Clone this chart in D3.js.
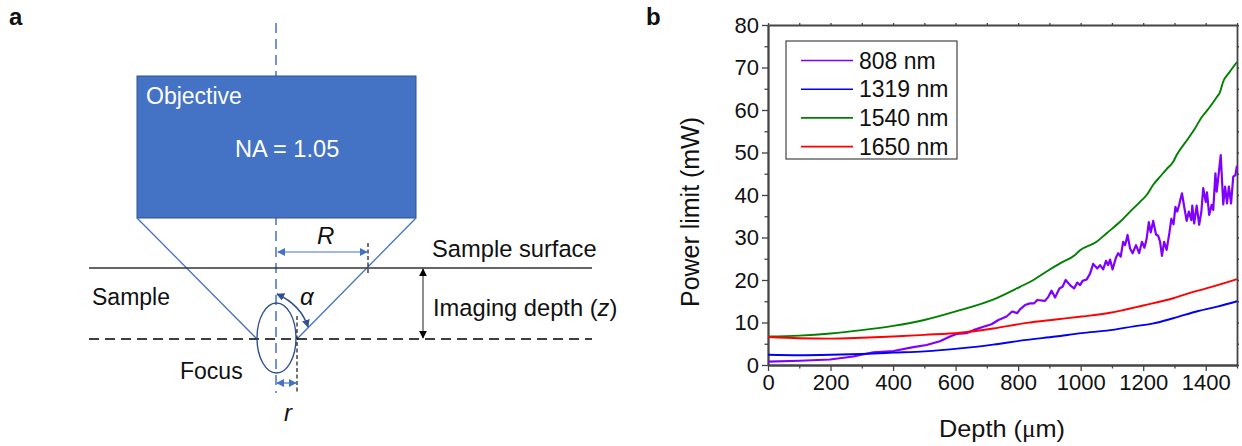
<!DOCTYPE html>
<html>
<head>
<meta charset="utf-8">
<script src="https://cdn.jsdelivr.net/npm/d3@7"></script>
<style>
    html, body { margin: 0; padding: 0; background: #fff; }
    svg { display: block; }
    text { font-family: "Liberation Sans", Arial, sans-serif; fill: #111; }
</style>
</head>
<body>
<svg width="1242" height="446"></svg>
<script>
const xTicks = [0, 200, 400, 600, 800, 1000, 1200, 1400];
const xMinorTicks = [100, 300, 500, 700, 900, 1100, 1300, 1500];
const yTicks = [0, 10, 20, 30, 40, 50, 60, 70, 80];
const yMinorTicks = [5, 15, 25, 35, 45, 55, 65, 75];

const legendNames = ['808 nm', '1319 nm', '1540 nm', '1650 nm'];
const seriesColors = ['#8000ff', '#0000f5', '#008000', '#ff0000'];

const depth808 = [0, 102, 198, 273, 337, 401, 465, 507, 550, 582, 603, 635, 657, 689, 715, 737, 763, 781, 797, 806, 822, 838, 851, 861, 886, 897, 907, 918, 932, 942, 952, 966, 979, 989, 998, 1006, 1019, 1030, 1040, 1053, 1062, 1072, 1081, 1088, 1094, 1102, 1113, 1120, 1128, 1136, 1142, 1150, 1158, 1166, 1177, 1187, 1196, 1204, 1211, 1218, 1224, 1232, 1241, 1248, 1254, 1260, 1267, 1275, 1284, 1290, 1297, 1303, 1309, 1315, 1324, 1331, 1339, 1346, 1354, 1357, 1363, 1371, 1379, 1386, 1392, 1400, 1404, 1411, 1419, 1424, 1431, 1435, 1440, 1448, 1456, 1462, 1468, 1474, 1481, 1488, 1495, 1500];
const power808 = [0.8, 1.0, 1.3, 2.0, 3.0, 3.3, 4.2, 4.7, 5.6, 6.7, 7.3, 7.5, 8.2, 9.0, 9.6, 10.6, 11.4, 12.6, 12.2, 13.1, 14.1, 14.5, 14.5, 15.3, 15.1, 16.1, 17.5, 15.9, 18.0, 18.4, 20.0, 18.8, 18.0, 19.4, 18.8, 19.8, 20.1, 21.5, 23.8, 22.7, 23.5, 22.5, 24.5, 23.5, 24.8, 22.5, 25.3, 26.3, 25.5, 29.0, 28.2, 30.6, 27.4, 26.3, 28.2, 26.3, 29.0, 27.6, 29.7, 33.6, 31.2, 33.9, 30.7, 30.4, 29.0, 25.7, 29.0, 27.1, 31.2, 34.4, 33.1, 37.2, 36.1, 37.7, 40.4, 37.3, 33.9, 36.1, 34.1, 37.5, 33.3, 37.5, 33.0, 36.1, 41.6, 38.4, 40.6, 35.3, 37.7, 36.5, 45.1, 40.8, 44.0, 49.4, 37.8, 42.0, 38.0, 42.0, 38.0, 44.3, 44.7, 46.9];

const depth1319 = [0, 100, 200, 300, 400, 500, 614, 720, 827, 920, 1003, 1094, 1170, 1233, 1296, 1376, 1440, 1500];
const power1319 = [2.4, 2.3, 2.4, 2.6, 2.9, 3.2, 3.9, 4.8, 5.9, 6.7, 7.5, 8.2, 9.1, 9.8, 11.0, 12.7, 13.8, 15.0];

const depth1540 = [0, 100, 200, 300, 400, 500, 614, 720, 806, 849, 891, 934, 982, 998, 1051, 1083, 1126, 1158, 1190, 1211, 1232, 1254, 1275, 1296, 1307, 1344, 1365, 1387, 1410, 1435, 1445, 1456, 1475, 1500];
const power1540 = [6.7, 6.9, 7.4, 8.2, 9.2, 10.6, 12.9, 15.4, 18.4, 20.0, 22.0, 23.9, 25.9, 27.0, 29.0, 31.0, 33.7, 36.1, 38.4, 40.0, 42.4, 44.3, 46.1, 47.8, 49.4, 53.3, 55.6, 58.3, 60.4, 63.0, 64.1, 66.7, 68.8, 71.3];

const depth1650 = [0, 100, 200, 300, 400, 500, 614, 720, 827, 920, 1003, 1094, 1200, 1296, 1360, 1430, 1500];
const power1650 = [6.6, 6.3, 6.2, 6.4, 6.7, 7.1, 7.6, 8.6, 9.9, 10.7, 11.4, 12.3, 14.0, 15.7, 17.2, 18.6, 20.2];

const svg = d3.select("svg");
const margin = { top: 25, right: 5, bottom: 81, left: 768 };
const width = +svg.attr("width") - margin.left - margin.right;
const height = +svg.attr("height") - margin.top - margin.bottom;
const axisColor = "#444";

const x = d3.scaleLinear().domain([0, 1500]).range([0, width]);
const y = d3.scaleLinear().domain([0, 80]).range([height, 0]);

drawSchematic(svg.append("g"));
drawPlot(svg.append("g").attr("transform", `translate(${margin.left},${margin.top})`));

function styleAxis(sel) {
    sel.selectAll(".domain").attr("stroke", axisColor).attr("stroke-width", 1.8);
    sel.selectAll(".tick line").attr("stroke", axisColor).attr("stroke-width", 1.3);
    sel.selectAll("text").style("font-size", "22px").attr("fill", "#111");
}

function drawPlot(g) {
    const addAxis = (axis, values, size, labelled, tx, ty) => g.append("g")
        .attr("transform", `translate(${tx},${ty})`)
        .call(axis.tickValues(values).tickSize(size).tickSizeOuter(0).tickFormat(labelled ? d3.format("d") : ""))
        .call(styleAxis);

    addAxis(d3.axisBottom(x), xTicks, 6, true, 0, height);
    addAxis(d3.axisBottom(x), xMinorTicks, 3.5, false, 0, height);
    addAxis(d3.axisLeft(y), yTicks, 6, true, 0, 0);
    addAxis(d3.axisLeft(y), yMinorTicks, 3.5, false, 0, 0);
    // mirrored frame, small ticks on the outside
    addAxis(d3.axisTop(x), xTicks.concat(xMinorTicks), 2, false, 0, 0);
    addAxis(d3.axisRight(y), yTicks.concat(yMinorTicks), 2, false, width, 0);

    const line = d3.line().x(d => x(d[0])).y(d => y(d[1]));
    const smooth = d3.line().x(d => x(d[0])).y(d => y(d[1])).curve(d3.curveMonotoneX);
    const curves = [
        [depth808, power808, line], [depth1319, power1319, smooth], [depth1540, power1540, smooth], [depth1650, power1650, smooth]
    ];
    g.append("g").selectAll("path")
        .data(curves)
        .join("path")
        .attr("fill", "none")
        .attr("stroke", (d, i) => seriesColors[i])
        .attr("stroke-width", (d, i) => i === 0 ? 2.2 : 1.9)
        .attr("stroke-linejoin", "round")
        .attr("d", d => d[2](d3.zip(d[0], d[1])));

    const depthTitle = g.append("text")
        .attr("x", 171).attr("y", 412)
        .style("font-size", "24.5px")
        .attr("textLength", 126).attr("lengthAdjust", "spacingAndGlyphs")
        .text("Depth (");
    depthTitle.append("tspan").style("font-family", '"Liberation Serif", serif').text("μ");
    depthTitle.append("tspan").text("m)");

    g.append("text")
        .attr("transform", "translate(-69,282) rotate(-90)")
        .style("font-size", "26px")
        .attr("textLength", 190).attr("lengthAdjust", "spacingAndGlyphs")
        .text("Power limit (mW)");

    // legend
    const legend = g.append("g").attr("transform", "translate(18,16)");
    legend.append("rect")
        .attr("width", 171).attr("height", 118)
        .attr("fill", "#fff").attr("stroke", axisColor).attr("stroke-width", 1.2);
    const rows = legend.selectAll("g.row").data(legendNames).join("g")
        .attr("class", "row")
        .attr("transform", (d, i) => `translate(0,${19.5 + i * 28.7})`);
    rows.append("line")
        .attr("x1", 15).attr("x2", 67)
        .attr("stroke", (d, i) => seriesColors[i]).attr("stroke-width", 1.6);
    rows.append("text")
        .attr("x", 73).attr("y", 8).style("font-size", "23px")
        .text(d => d);
}

function drawSchematic(g) {
    const blue = "#4472c4";
    const darkBlue = "#2f528f";

    const defs = svg.append("defs");
    const marker = (id, color) => defs.append("marker")
        .attr("id", id).attr("viewBox", "0 0 10 10").attr("refX", 9).attr("refY", 5)
        .attr("markerWidth", 8).attr("markerHeight", 8).attr("markerUnits", "userSpaceOnUse")
        .attr("orient", "auto-start-reverse")
        .append("path").attr("d", "M0,0L10,5L0,10Z").attr("fill", color);
    marker("headBlue", blue);
    marker("headDark", darkBlue);
    marker("headBlack", "#000");

    const seg = (x1, y1, x2, y2, color, w, dash) => g.append("line")
        .attr("x1", x1).attr("y1", y1).attr("x2", x2).attr("y2", y2)
        .attr("stroke", color).attr("stroke-width", w).attr("stroke-dasharray", dash || null);
    const label = (txt, px, py, size, opts) => g.append("text")
        .attr("x", px).attr("y", py).style("font-size", size + "px")
        .style("font-style", opts && opts.italic ? "italic" : null)
        .style("font-weight", opts && opts.bold ? "bold" : null)
        .style("fill", opts && opts.color ? opts.color : null)
        .text(txt);

    seg(276, 23, 276, 393, blue, 1.5, "10 6");
    g.append("rect").attr("x", 137).attr("y", 76).attr("width", 279).attr("height", 142)
        .attr("fill", blue).attr("stroke", darkBlue).attr("stroke-width", 1);

    seg(137, 218, 257, 339, blue, 1.3);
    seg(416, 218, 297, 339, blue, 1.3);
    seg(89, 268, 592, 268, "#333", 1.4);
    seg(89, 339, 592, 339, "#000", 1.3, "10 6");

    g.append("ellipse").attr("cx", 276.5).attr("cy", 338).attr("rx", 19.5).attr("ry", 35)
        .attr("fill", "none").attr("stroke", darkBlue).attr("stroke-width", 1.4);

    seg(368, 243, 368, 275, "#000", 1.1, "4 2.5");
    seg(297, 316, 297, 393, "#000", 1.1, "4 2.5");

    seg(278, 252, 367, 252, blue, 1.2)
        .attr("marker-start", "url(#headBlue)").attr("marker-end", "url(#headBlue)");
    seg(277, 383, 296, 383, blue, 1.2)
        .attr("marker-start", "url(#headBlue)").attr("marker-end", "url(#headBlue)");
    seg(423, 269, 423, 338, "#333", 1.1)
        .attr("marker-start", "url(#headBlack)").attr("marker-end", "url(#headBlack)");

    g.append("path").attr("d", "M277,294 Q301,305 308,327")
        .attr("fill", "none").attr("stroke", darkBlue).attr("stroke-width", 1.5)
        .attr("marker-start", "url(#headDark)").attr("marker-end", "url(#headDark)");

    label("Objective", 146, 104, 23, { color: "#fff" });
    label("NA = 1.05", 235, 157, 23.6, { color: "#fff" });
    label("R", 317, 244, 24, { italic: true });
    label("Sample surface", 432, 257, 23.7);
    label("Sample", 92, 305, 23);
    label("α", 300, 305, 24, { italic: true });
    const depthLabel = label("Imaging depth (", 433, 316, 23.7);
    depthLabel.append("tspan").style("font-style", "italic").text("z");
    depthLabel.append("tspan").text(")");
    label("Focus", 180, 379, 23);
    label("r", 284, 421, 24, { italic: true });
    label("a", 9, 25, 24, { bold: true });
    label("b", 646, 25, 24, { bold: true });
}
</script>
</body>
</html>
